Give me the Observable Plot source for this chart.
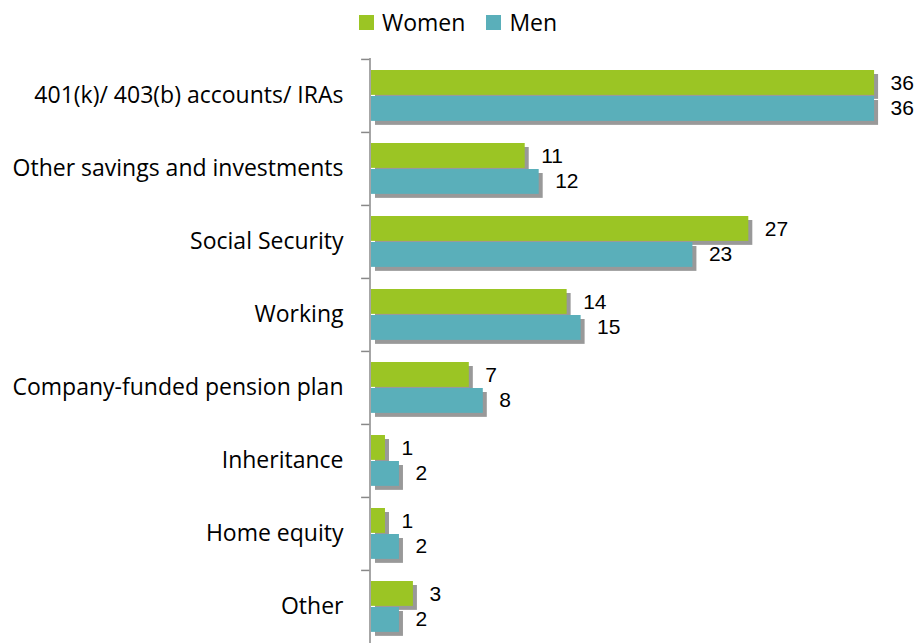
<!DOCTYPE html>
<html><head><meta charset="utf-8">
<script src="https://cdn.jsdelivr.net/npm/d3@7"></script>
<script src="https://cdn.jsdelivr.net/npm/@observablehq/plot@0.6"></script>
<style>
html,body{margin:0;padding:0;background:#fff;overflow:hidden}
#wrap{position:relative;width:921px;height:643px;font-family:"Open Sans",sans-serif}
#legend{position:absolute;top:7px;left:359px;display:flex;align-items:center;font-size:23px;color:#000;line-height:30px}
#legend .sw{width:15px;height:15px;display:inline-block;margin-right:8px}
#legend .item{display:flex;align-items:center;margin-right:21px}
</style>
</head><body>
<div id="wrap"><div id="legend"></div><div id="chart"></div></div>
<script>
const categories = ["401(k)/ 403(b) accounts/ IRAs","Other savings and investments","Social Security","Working","Company-funded pension plan","Inheritance","Home equity","Other"];
const women = [36, 11, 27, 14, 7, 1, 1, 3];
const men = [36, 12, 23, 15, 8, 2, 2, 2];
const series = ["Women", "Men"];
const colors = ["#9BC524", "#5AAFBA"];

const rows = categories.flatMap((c, i) => [
  {category: c, sex: series[0], value: women[i]},
  {category: c, sex: series[1], value: men[i]}
]);
const W = rows.filter(d => d.sex === series[0]);
const M = rows.filter(d => d.sex === series[1]);

const legend = document.getElementById("legend");
series.forEach((s, i) => {
  const it = document.createElement("div"); it.className = "item";
  const sw = document.createElement("span"); sw.className = "sw"; sw.style.background = colors[i];
  it.appendChild(sw); it.appendChild(document.createTextNode(s));
  legend.appendChild(it);
});

const step = (643 - 58) / categories.length;
const wIns = {insetTop: 11, insetBottom: step - 36};
const mIns = {insetTop: 37, insetBottom: step - 62};
const labelFont = "Liberation Sans, Arial, sans-serif";

const chart = Plot.plot({
  width: 921, height: 643,
  marginTop: 58, marginBottom: 0, marginLeft: 371, marginRight: 5,
  style: {fontFamily: "Open Sans, sans-serif", fontSize: "23px", color: "#000", background: "#fff", overflow: "visible"},
  x: {axis: null, domain: [0, 39]},
  y: {domain: categories, padding: 0, tickSize: 0, tickPadding: 28, label: null},
  color: {domain: series, range: colors},
  marks: [
    Plot.barX(W, {x: "value", y: "category", fill: "#777", fillOpacity: 0.75, dx: 4, dy: 4, ariaLabel: "shadow", ...wIns}),
    Plot.barX(M, {x: "value", y: "category", fill: "#777", fillOpacity: 0.75, dx: 4, dy: 4, ariaLabel: "shadow", ...mIns}),
    Plot.barX(W, {x: "value", y: "category", fill: "sex", ...wIns}),
    Plot.barX(M, {x: "value", y: "category", fill: "sex", ...mIns}),
    Plot.text(W, {x: "value", y: "category", text: d => String(d.value), dy: -12.5, dx: 16, textAnchor: "start", fontSize: 21, fontFamily: labelFont, fill: "#000"}),
    Plot.text(M, {x: "value", y: "category", text: d => String(d.value), dy: 12.5, dx: 16, textAnchor: "start", fontSize: 21, fontFamily: labelFont, fill: "#000"}),
    Plot.ruleX([0], {stroke: "#888", strokeWidth: 1.5, dx: -1.5}),
    Plot.ruleY(categories, {y: d => d, x1: -0.6, x2: 0, dx: -1.5, dy: -step / 2, stroke: "#888", strokeWidth: 1.5})
  ]
});
const ns = "http://www.w3.org/2000/svg";
const defs = document.createElementNS(ns, "defs");
const filt = document.createElementNS(ns, "filter");
filt.setAttribute("id", "shadowBlur");
filt.setAttribute("x", "-30%"); filt.setAttribute("y", "-60%");
filt.setAttribute("width", "160%"); filt.setAttribute("height", "220%");
const blur = document.createElementNS(ns, "feGaussianBlur");
blur.setAttribute("stdDeviation", "2.5");
filt.appendChild(blur); defs.appendChild(filt);
chart.insertBefore(defs, chart.firstChild);
chart.querySelectorAll('[aria-label="shadow"]').forEach(el => el.setAttribute("filter", "url(#shadowBlur)"));
document.getElementById("chart").appendChild(chart);
</script>
</body></html>
